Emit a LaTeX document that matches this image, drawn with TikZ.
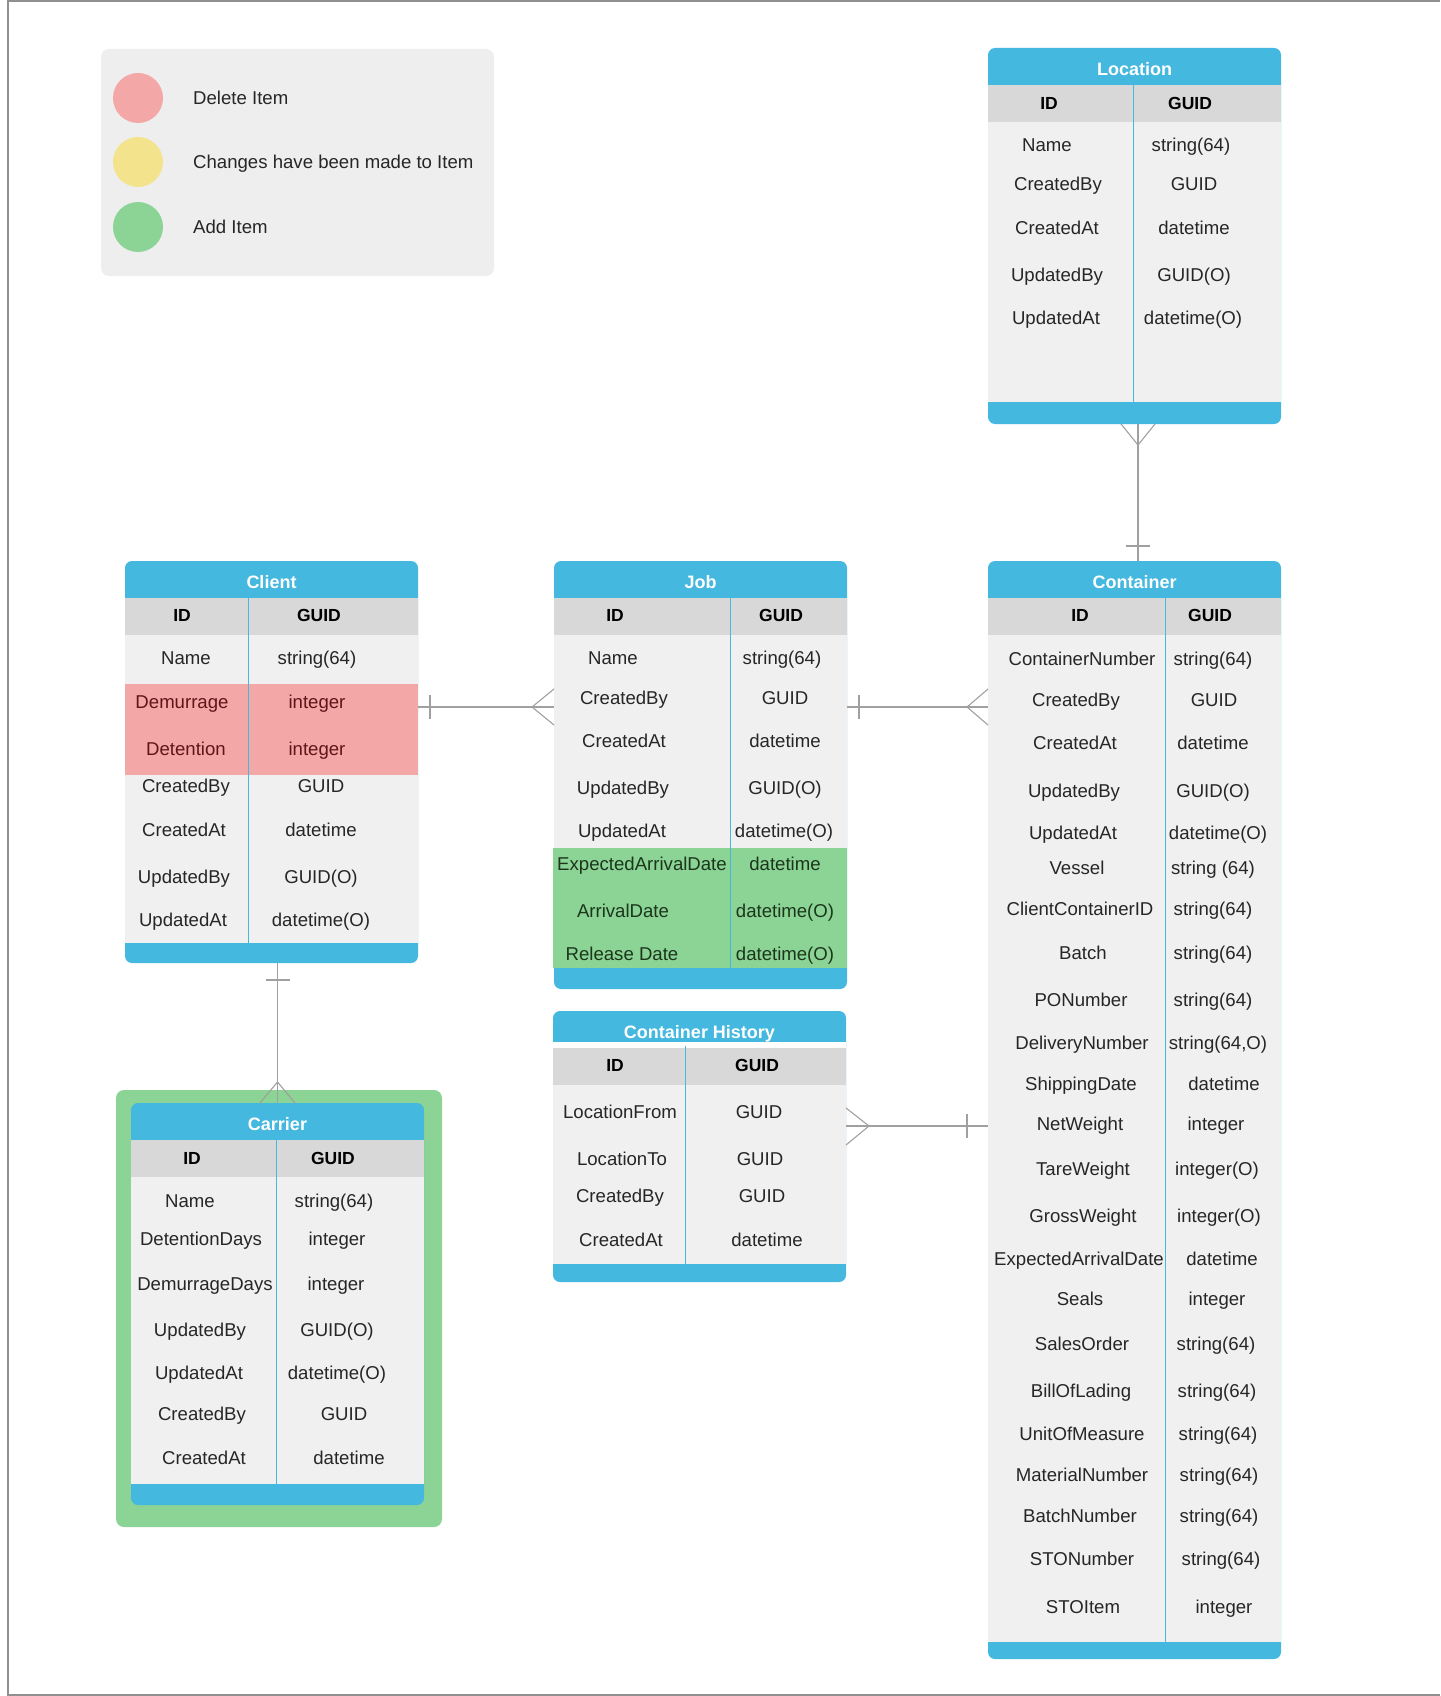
\documentclass[tikz,border=0pt]{standalone}
\usepackage{fontspec}
\setmainfont{Liberation Sans}
\definecolor{hdblue}{HTML}{44B8DE}
\definecolor{idgray}{HTML}{D8D8D8}
\definecolor{bodygray}{HTML}{F0F0F0}
\definecolor{lgdgray}{HTML}{EEEEEE}
\definecolor{lngray}{HTML}{A0A0A0}
\definecolor{delred}{HTML}{F3A7A7}
\definecolor{chgyellow}{HTML}{F3E38C}
\definecolor{addgreen}{HTML}{8BD495}
\definecolor{txt}{HTML}{262626}
\definecolor{deltxt}{HTML}{5E1616}
\definecolor{addtxt}{HTML}{1C361C}
\begin{document}
\begin{tikzpicture}[x=1pt, y=-1pt,
  tbl/.style={fill=hdblue, rounded corners=7pt, inner sep=0pt},
  ttl/.style={text=white, font=\bfseries\fontsize{18}{20}\selectfont, text height=12.9pt, text depth=0pt, inner sep=0pt},
  hd/.style={text=black, font=\bfseries\fontsize{17.5}{20}\selectfont, text height=12.6pt, text depth=0pt, inner sep=0pt},
  fld/.style={text=txt, font=\fontsize{18.6}{22}\selectfont, text height=13.3pt, text depth=0pt, inner sep=0pt},
  conn/.style={draw=lngray, line width=1.1pt},
  sep/.style={draw=hdblue, line width=1pt},
  dot/.style={circle, minimum size=50pt, inner sep=0pt}]
\useasboundingbox (0,0) rectangle (1440,1696);
\draw[lngray!90!black, line width=1.5pt] (1440,1) -- (8,1) -- (8,1695) -- (1440,1695);

% legend
\node[fill=lgdgray, rounded corners=8pt, minimum width=393pt, minimum height=227pt] (lgd) at (297.5,162.5) {};
\node[dot, fill=delred] (lgd1) at (138,98) {};
\node[dot, fill=chgyellow] (lgd2) at (138,162) {};
\node[dot, fill=addgreen] (lgd3) at (138,227) {};
\node[fld, anchor=west] (lgd1t) at (193,98) {Delete Item};
\node[fld, anchor=west] (lgd2t) at (193,162) {Changes have been made to Item};
\node[fld, anchor=west] (lgd3t) at (193,227) {Add Item};

% Location
\node[tbl, minimum width=293pt, minimum height=376pt] (loc) at (1134.5,236) {};
\fill[idgray] (988,85) rectangle (1281,122);
\fill[bodygray] (988,122) rectangle (1281,402);
\draw[sep] (1133,85) -- (1133,402);
\node[ttl] (locT) at (1134.5,69) {Location};
\node[hd] (locH1) at (1049,103) {ID};
\node[hd] (locH2) at (1190,103) {GUID};
\node[fld] (loc1a) at (1047,145) {Name};
\node[fld] (loc1b) at (1191,145) {string(64)};
\node[fld] (loc2a) at (1058,184) {CreatedBy};
\node[fld] (loc2b) at (1194,184) {GUID};
\node[fld] (loc3a) at (1057,228) {CreatedAt};
\node[fld] (loc3b) at (1194,228) {datetime};
\node[fld] (loc4a) at (1057,275) {UpdatedBy};
\node[fld] (loc4b) at (1194,275) {GUID(O)};
\node[fld] (loc5a) at (1056,318) {UpdatedAt};
\node[fld] (loc5b) at (1193,318) {datetime(O)};

% Client
\node[tbl, minimum width=293pt, minimum height=402pt] (cli) at (271.5,762) {};
\fill[idgray] (125,598) rectangle (418,635);
\fill[bodygray] (125,635) rectangle (418,943);
\fill[delred] (125,684) rectangle (418,775);
\draw[sep] (248,598) -- (248,943);
\node[ttl] (cliT) at (271.5,582) {Client};
\node[hd] (cliH1) at (182,615) {ID};
\node[hd] (cliH2) at (319,615) {GUID};
\node[fld] (cli1a) at (186,658) {Name};
\node[fld] (cli1b) at (317,658) {string(64)};
\node[fld, text=deltxt] (cli2a) at (182,702) {Demurrage};
\node[fld, text=deltxt] (cli2b) at (317,702) {integer};
\node[fld, text=deltxt] (cli3a) at (186,749) {Detention};
\node[fld, text=deltxt] (cli3b) at (317,749) {integer};
\node[fld] (cli4a) at (186,786) {CreatedBy};
\node[fld] (cli4b) at (321,786) {GUID};
\node[fld] (cli5a) at (184,830) {CreatedAt};
\node[fld] (cli5b) at (321,830) {datetime};
\node[fld] (cli6a) at (184,877) {UpdatedBy};
\node[fld] (cli6b) at (321,877) {GUID(O)};
\node[fld] (cli7a) at (183,920) {UpdatedAt};
\node[fld] (cli7b) at (321,920) {datetime(O)};

% Job
\node[tbl, minimum width=293pt, minimum height=428pt] (job) at (700.5,775) {};
\fill[idgray] (554,598) rectangle (847,635);
\fill[bodygray] (554,635) rectangle (847,848);
\fill[addgreen] (553,848) rectangle (847,968);
\draw[sep] (730,598) -- (730,968);
\node[ttl] (jobT) at (700.5,582) {Job};
\node[hd] (jobH1) at (615,615) {ID};
\node[hd] (jobH2) at (781,615) {GUID};
\node[fld] (job1a) at (613,658) {Name};
\node[fld] (job1b) at (782,658) {string(64)};
\node[fld] (job2a) at (624,698) {CreatedBy};
\node[fld] (job2b) at (785,698) {GUID};
\node[fld] (job3a) at (624,741) {CreatedAt};
\node[fld] (job3b) at (785,741) {datetime};
\node[fld] (job4a) at (623,788) {UpdatedBy};
\node[fld] (job4b) at (785,788) {GUID(O)};
\node[fld] (job5a) at (622,831) {UpdatedAt};
\node[fld] (job5b) at (784,831) {datetime(O)};
\node[fld, text=addtxt] (job6a) at (642,864) {ExpectedArrivalDate};
\node[fld, text=addtxt] (job6b) at (785,864) {datetime};
\node[fld, text=addtxt] (job7a) at (623,911) {ArrivalDate};
\node[fld, text=addtxt] (job7b) at (785,911) {datetime(O)};
\node[fld, text=addtxt] (job8a) at (622,954) {Release Date};
\node[fld, text=addtxt] (job8b) at (785,954) {datetime(O)};

% Container History
\node[tbl, minimum width=293pt, minimum height=271pt] (hist) at (699.5,1146.5) {};
\fill[white] (553,1042) rectangle (846,1048);
\fill[idgray] (553,1048) rectangle (846,1085);
\fill[bodygray] (553,1085) rectangle (846,1264);
\draw[sep] (685,1046) -- (685,1264);
\node[ttl] (histT) at (699.5,1032) {Container History};
\node[hd] (histH1) at (615,1065) {ID};
\node[hd] (histH2) at (757,1065) {GUID};
\node[fld] (hist1a) at (620,1112) {LocationFrom};
\node[fld] (hist1b) at (759,1112) {GUID};
\node[fld] (hist2a) at (622,1159) {LocationTo};
\node[fld] (hist2b) at (760,1159) {GUID};
\node[fld] (hist3a) at (620,1196) {CreatedBy};
\node[fld] (hist3b) at (762,1196) {GUID};
\node[fld] (hist4a) at (621,1240) {CreatedAt};
\node[fld] (hist4b) at (767,1240) {datetime};

% Carrier
\node[fill=addgreen, rounded corners=8pt, inner sep=0pt, minimum width=326pt, minimum height=437pt] (carG) at (279,1308.5) {};
\node[tbl, minimum width=293pt, minimum height=402pt] (car) at (277.5,1304) {};
\fill[idgray] (131,1140) rectangle (424,1177);
\fill[bodygray] (131,1177) rectangle (424,1484);
\draw[sep] (276,1140) -- (276,1484);
\node[ttl] (carT) at (277.5,1124) {Carrier};
\node[hd] (carH1) at (192,1158) {ID};
\node[hd] (carH2) at (333,1158) {GUID};
\node[fld] (car1a) at (190,1200.5) {Name};
\node[fld] (car1b) at (334,1200.5) {string(64)};
\node[fld] (car2a) at (201,1239.3) {DetentionDays};
\node[fld] (car2b) at (337,1239.3) {integer};
\node[fld] (car3a) at (205,1283.7) {DemurrageDays};
\node[fld] (car3b) at (336,1283.7) {integer};
\node[fld] (car4a) at (200,1330) {UpdatedBy};
\node[fld] (car4b) at (337,1330) {GUID(O)};
\node[fld] (car5a) at (199,1373.2) {UpdatedAt};
\node[fld] (car5b) at (337,1373.2) {datetime(O)};
\node[fld] (car6a) at (202,1414.3) {CreatedBy};
\node[fld] (car6b) at (344,1414.3) {GUID};
\node[fld] (car7a) at (204,1457.6) {CreatedAt};
\node[fld] (car7b) at (349,1457.6) {datetime};

% Container
\node[tbl, minimum width=293pt, minimum height=1098pt] (cnt) at (1134.5,1110) {};
\fill[idgray] (988,598) rectangle (1281,635);
\fill[bodygray] (988,635) rectangle (1281,1642);
\draw[sep] (1165,598) -- (1165,1642);
\node[ttl] (cntT) at (1134.5,582) {Container};
\node[hd] (cntH1) at (1080,615.5) {ID};
\node[hd] (cntH2) at (1210,615.5) {GUID};
\node[fld] (cnt1a) at (1082,658.4) {ContainerNumber};
\node[fld] (cnt1b) at (1213,658.4) {string(64)};
\node[fld] (cnt2a) at (1076,699.8) {CreatedBy};
\node[fld] (cnt2b) at (1214,699.8) {GUID};
\node[fld] (cnt3a) at (1075,743.1) {CreatedAt};
\node[fld] (cnt3b) at (1213,743.1) {datetime};
\node[fld] (cnt4a) at (1074,790.5) {UpdatedBy};
\node[fld] (cnt4b) at (1213,790.5) {GUID(O)};
\node[fld] (cnt5a) at (1073,833) {UpdatedAt};
\node[fld] (cnt5b) at (1218,833) {datetime(O)};
\node[fld] (cnt6a) at (1077,867.4) {Vessel};
\node[fld] (cnt6b) at (1213,867.4) {string (64)};
\node[fld] (cnt7a) at (1080,908.9) {ClientContainerID};
\node[fld] (cnt7b) at (1213,908.9) {string(64)};
\node[fld] (cnt8a) at (1083,952.5) {Batch};
\node[fld] (cnt8b) at (1213,952.5) {string(64)};
\node[fld] (cnt9a) at (1081,999.5) {PONumber};
\node[fld] (cnt9b) at (1213,999.5) {string(64)};
\node[fld] (cnt10a) at (1082,1042.8) {DeliveryNumber};
\node[fld] (cnt10b) at (1218,1042.8) {string(64,O)};
\node[fld] (cnt11a) at (1081,1083.5) {ShippingDate};
\node[fld] (cnt11b) at (1224,1083.5) {datetime};
\node[fld] (cnt12a) at (1080,1123.7) {NetWeight};
\node[fld] (cnt12b) at (1216,1123.7) {integer};
\node[fld] (cnt13a) at (1083,1168.5) {TareWeight};
\node[fld] (cnt13b) at (1217,1168.5) {integer(O)};
\node[fld] (cnt14a) at (1083,1215.5) {GrossWeight};
\node[fld] (cnt14b) at (1219,1215.5) {integer(O)};
\node[fld] (cnt15a) at (1079,1258.5) {ExpectedArrivalDate};
\node[fld] (cnt15b) at (1222,1258.5) {datetime};
\node[fld] (cnt16a) at (1080,1299.3) {Seals};
\node[fld] (cnt16b) at (1217,1299.3) {integer};
\node[fld] (cnt17a) at (1082,1343.4) {SalesOrder};
\node[fld] (cnt17b) at (1216,1343.4) {string(64)};
\node[fld] (cnt18a) at (1081,1390.8) {BillOfLading};
\node[fld] (cnt18b) at (1217,1390.8) {string(64)};
\node[fld] (cnt19a) at (1082,1433.4) {UnitOfMeasure};
\node[fld] (cnt19b) at (1218,1433.4) {string(64)};
\node[fld] (cnt20a) at (1082,1474.5) {MaterialNumber};
\node[fld] (cnt20b) at (1219,1474.5) {string(64)};
\node[fld] (cnt21a) at (1080,1515.7) {BatchNumber};
\node[fld] (cnt21b) at (1219,1515.7) {string(64)};
\node[fld] (cnt22a) at (1082,1559) {STONumber};
\node[fld] (cnt22b) at (1221,1559) {string(64)};
\node[fld] (cnt23a) at (1083,1606.8) {STOItem};
\node[fld] (cnt23b) at (1224,1606.8) {integer};

% relations
\coordinate (cjy) at (0,707);
\coordinate (hcy) at (0,1126);
\coordinate (lcx) at (1138,0);
\draw[conn] (loc.south -| lcx) -- (cnt.north -| lcx);
\draw[conn] (1121,424) -- (1138,445) -- (1155,424);
\draw[conn] (1126,546) -- (1150,546);
\draw[conn] (cli.east |- cjy) -- (job.west |- cjy);
\draw[conn] (430,695) -- (430,719);
\draw[conn] (554,689) -- (532,707) -- (554,725);
\draw[conn] (job.east |- cjy) -- (cnt.west |- cjy);
\draw[conn] (859,695) -- (859,719);
\draw[conn] (988,689) -- (967,707) -- (988,725);
\draw[conn] (hist.east |- hcy) -- (cnt.west |- hcy);
\draw[conn] (846,1108) -- (869,1126) -- (846,1145);
\draw[conn] (967,1114) -- (967,1138);
\draw[conn] (car.north |- cli.south) -- (car.north);
\draw[conn] (265.5,980) -- (289.5,980);
\draw[conn] (260,1103) -- (277.5,1082) -- (295,1103);
\end{tikzpicture}
\end{document}
